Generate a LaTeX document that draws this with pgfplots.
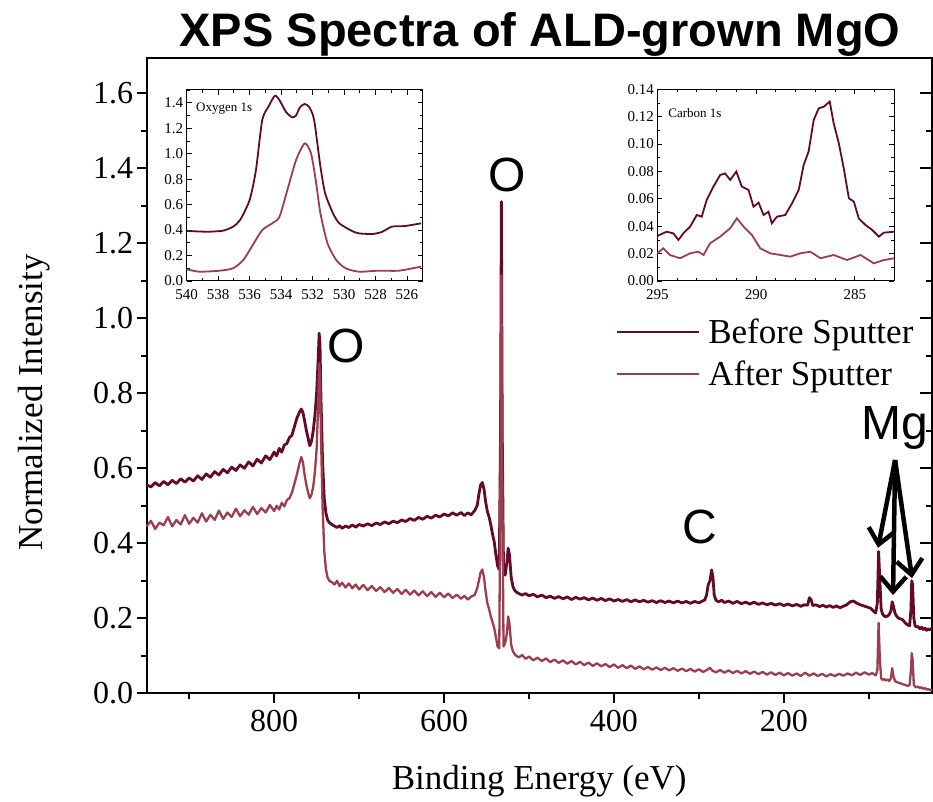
\documentclass[border=0pt]{standalone}
\usepackage{fontspec}
\setmainfont{Liberation Serif}
\newfontfamily\sansf{Liberation Sans}
\usepackage{pgfplots}
\pgfplotsset{compat=1.18}
\usetikzlibrary{arrows.meta}
\definecolor{before}{RGB}{100,10,40}
\definecolor{after}{RGB}{155,62,78}
\begin{document}
\begin{tikzpicture}
\useasboundingbox (-146.7pt,-107.7pt) rectangle (786.3pt,693.3pt);
% right-side inward ticks
\begin{axis}[
  at={(0pt,0pt)}, anchor=south west,
  scale only axis, width=785pt, height=635pt,
  x dir=reverse, xmin=26, xmax=950, ymin=0, ymax=1.693,
  hide x axis, axis y line*=right,
  axis line style={line width=2.2pt},
  ytick={0,0.2,...,1.6}, minor ytick={0.1,0.3,...,1.5},
  yticklabels={}, tick align=inside,
  major tick length=12pt, minor tick length=6pt,
  tick style={line width=2.2pt, black},
]
\addplot[draw=none] coordinates {(500,0.5)};
\end{axis}
\begin{axis}[
  at={(0pt,0pt)}, anchor=south west,
  scale only axis, width=785pt, height=635pt,
  x dir=reverse, xmin=26, xmax=950, ymin=0, ymax=1.693,
  clip=false,
  axis line style={line width=2.2pt},
  xtick={200,400,600,800}, minor xtick={100,300,500,700,900},
  ytick={0,0.2,...,1.6}, minor ytick={0.1,0.3,...,1.5},
  xtick pos=left, ytick pos=left, tick align=outside,
  major tick length=10pt, minor tick length=6pt,
  tick style={line width=2.2pt, black},
  /pgf/number format/assume math mode=true,
  ticklabel style={font=\fontsize{32}{38}\selectfont},
  yticklabel style={/pgf/number format/.cd, fixed, fixed zerofill, precision=1},
  xticklabel style={yshift=-3pt, /pgf/number format/.cd, fixed},
  label style={font=\fontsize{35}{40}\selectfont},
  xlabel={Binding Energy (eV)},
  ylabel={Normalized Intensity},
  xlabel style={at={(axis description cs:0.5,-0.139)}, anchor=center},
  ylabel style={at={(axis description cs:-0.144,0.458)}, anchor=center},
  legend style={draw=none, fill=none, at={(0.597,0.593)}, anchor=north west,
    font=\fontsize{35}{40}\selectfont, row sep=12pt, inner sep=0pt},
  legend cell align=left,
  legend image code/.code={\draw[#1] (0pt,0pt) -- (82pt,0pt); \path (88pt,0pt);},
]
\addplot[before, line width=2.8pt, line join=round] table {
x y
950 0.556
945 0.550
940 0.562
935 0.553
930 0.565
925 0.556
920 0.568
915 0.559
910 0.572
905 0.563
900 0.574
895 0.566
890 0.580
885 0.570
880 0.585
875 0.576
870 0.591
865 0.582
860 0.597
855 0.588
850 0.603
845 0.594
840 0.609
835 0.600
830 0.617
825 0.606
820 0.624
815 0.614
810 0.633
805 0.623
800 0.643
797 0.633
794 0.653
791 0.643
788 0.662
785 0.666
782 0.682
779 0.688
776 0.712
773 0.735
770 0.750
768 0.758
766 0.748
764 0.725
762 0.700
760 0.680
758 0.660
756 0.672
754 0.700
752 0.740
750 0.800
748 0.900
747 0.960
746 0.930
745 0.800
743 0.620
741 0.520
739 0.480
737 0.462
735 0.455
732 0.450
729 0.446
726 0.442
723 0.447
720 0.440
716 0.446
712 0.442
708 0.449
704 0.443
700 0.450
695 0.446
690 0.452
685 0.447
680 0.454
675 0.450
670 0.457
665 0.452
660 0.459
655 0.455
650 0.462
645 0.458
640 0.466
635 0.461
630 0.469
625 0.464
620 0.472
615 0.467
610 0.475
605 0.470
600 0.478
595 0.473
590 0.481
585 0.475
580 0.482
576 0.474
572 0.481
568 0.476
564 0.487
561 0.500
559 0.530
557 0.555
555 0.562
553 0.545
551 0.510
549 0.485
547 0.470
545 0.450
543 0.425
541 0.405
539 0.370
537 0.340
535 0.330
533.5 0.700
532.5 1.311
531.5 0.700
530 0.330
528 0.315
526 0.350
524.5 0.387
523 0.370
521 0.310
519 0.285
517 0.275
515 0.270
512 0.266
508 0.262
504 0.266
500 0.260
495 0.264
490 0.257
485 0.262
480 0.255
475 0.259
470 0.253
465 0.258
460 0.252
455 0.257
450 0.250
445 0.256
440 0.251
435 0.255
430 0.249
425 0.254
420 0.248
415 0.253
410 0.247
405 0.252
400 0.246
395 0.250
390 0.245
385 0.250
380 0.244
375 0.249
370 0.244
365 0.248
360 0.243
355 0.247
350 0.242
345 0.247
340 0.242
335 0.246
330 0.241
325 0.246
320 0.241
315 0.245
310 0.240
305 0.245
300 0.241
296 0.246
293 0.249
291 0.262
289 0.290
287 0.300
285 0.329
283.5 0.310
282 0.262
280 0.248
277 0.244
273 0.248
270 0.242
265 0.246
260 0.240
255 0.245
250 0.239
245 0.243
240 0.238
235 0.243
230 0.237
225 0.241
220 0.236
215 0.240
210 0.235
205 0.239
200 0.234
195 0.238
190 0.233
185 0.237
180 0.232
176 0.236
172 0.235
170 0.255
168 0.250
166 0.234
162 0.236
158 0.231
154 0.235
150 0.230
146 0.234
142 0.229
138 0.233
134 0.228
130 0.232
126 0.236
122 0.244
118 0.246
114 0.240
110 0.236
106 0.233
102 0.230
98 0.227
95 0.220
92 0.214
90 0.240
88.5 0.378
87 0.300
85.5 0.225
84 0.212
82 0.206
80 0.204
78 0.206
76 0.210
74 0.220
72.5 0.244
71 0.232
69 0.212
67 0.205
65 0.200
62 0.198
60 0.196
58 0.190
56 0.185
54 0.182
52 0.180
50.5 0.220
49.5 0.300
48.5 0.290
47 0.200
45.5 0.180
44 0.177
42 0.178
40 0.172
38 0.176
36 0.170
34 0.174
32 0.168
30 0.172
28 0.169
26 0.173
};
\addplot[after, line width=2.3pt, line join=round] table {
x y
950 0.445
945 0.460
940 0.438
935 0.455
930 0.448
925 0.470
920 0.445
915 0.462
910 0.450
905 0.475
900 0.452
895 0.468
890 0.455
885 0.480
880 0.458
875 0.476
870 0.462
865 0.487
860 0.465
855 0.482
850 0.470
845 0.492
840 0.472
835 0.488
830 0.476
825 0.497
820 0.478
815 0.494
810 0.482
805 0.502
800 0.486
797 0.500
794 0.490
791 0.508
788 0.498
785 0.515
782 0.520
779 0.535
776 0.560
773 0.585
770 0.615
768 0.630
766 0.615
764 0.580
762 0.555
760 0.535
758 0.520
756 0.530
754 0.550
752 0.590
750 0.650
748 0.780
747 0.880
746 0.850
745 0.700
743 0.500
741 0.380
739 0.330
737 0.308
735 0.300
732 0.296
729 0.290
726 0.300
723 0.286
720 0.295
716 0.282
712 0.293
708 0.280
704 0.290
700 0.277
695 0.289
690 0.275
685 0.286
680 0.273
675 0.283
670 0.270
665 0.281
660 0.268
655 0.278
650 0.265
645 0.276
640 0.263
635 0.274
630 0.261
625 0.272
620 0.259
615 0.270
610 0.257
605 0.268
600 0.256
595 0.266
590 0.254
585 0.263
580 0.252
576 0.260
572 0.250
568 0.258
564 0.262
561 0.280
559 0.300
557 0.322
555 0.330
553 0.310
551 0.270
549 0.240
547 0.225
545 0.205
543 0.190
541 0.175
539 0.150
537 0.125
535 0.120
533.5 0.600
532.5 1.115
531.5 0.600
530 0.125
528 0.135
526 0.160
524.5 0.205
523 0.185
521 0.130
519 0.112
517 0.105
515 0.100
512 0.096
508 0.102
504 0.092
500 0.098
495 0.088
490 0.095
485 0.086
480 0.093
475 0.083
470 0.090
465 0.081
460 0.088
455 0.079
450 0.086
445 0.077
440 0.084
435 0.075
430 0.082
425 0.073
420 0.080
415 0.072
410 0.078
405 0.070
400 0.077
395 0.068
390 0.075
385 0.067
380 0.074
375 0.065
370 0.072
365 0.064
360 0.070
355 0.063
350 0.069
345 0.062
340 0.068
335 0.061
330 0.067
325 0.060
320 0.066
315 0.059
310 0.065
305 0.058
300 0.064
295 0.057
290 0.063
287 0.068
284 0.060
280 0.056
275 0.062
270 0.055
265 0.061
260 0.054
255 0.060
250 0.053
245 0.059
240 0.052
235 0.058
230 0.051
225 0.057
220 0.050
215 0.056
210 0.049
205 0.055
200 0.048
195 0.054
190 0.047
185 0.053
180 0.046
175 0.055
170 0.047
165 0.053
160 0.046
155 0.052
150 0.045
145 0.051
140 0.046
135 0.052
130 0.047
125 0.053
120 0.048
115 0.055
110 0.049
105 0.056
100 0.050
96 0.054
92 0.048
90 0.060
88.5 0.188
87 0.090
85.5 0.040
84 0.036
82 0.038
80 0.034
78 0.037
76 0.033
74 0.040
72.5 0.067
71 0.045
69 0.032
67 0.030
65 0.028
62 0.026
60 0.024
58 0.023
56 0.021
54 0.020
52 0.022
50.5 0.060
49.5 0.107
48.5 0.090
47 0.022
45.5 0.018
44 0.016
42 0.018
40 0.014
38 0.016
36 0.012
34 0.014
32 0.010
30 0.012
28 0.008
26 0.010
};
\legend{Before Sputter, After Sputter}
\node[font=\sansf\bfseries\fontsize{47}{52}\selectfont, anchor=base] at (rel axis cs:0.501,1.018) {XPS Spectra of ALD-grown MgO};
\node[font=\sansf\fontsize{48}{52}\selectfont] at (axis cs:525.9,1.382) {O};
\node[font=\sansf\fontsize{48}{52}\selectfont] at (axis cs:715.4,0.926) {O};
\node[font=\sansf\fontsize{48}{52}\selectfont] at (axis cs:298.6,0.443) {C};
\node[font=\sansf\fontsize{48}{52}\selectfont] at (axis cs:69.1,0.707) {Mg};
\draw[line width=4.5pt, -{Straight Barb[length=15pt,width=26pt]}] (axis cs:69.1,0.622) -- (axis cs:89.2,0.388);
\draw[line width=4.5pt, -{Straight Barb[length=15pt,width=26pt]}] (axis cs:69.1,0.622) -- (axis cs:71.5,0.262);
\draw[line width=4.5pt, -{Straight Barb[length=15pt,width=26pt]}] (axis cs:69.1,0.622) -- (axis cs:49.1,0.307);
\end{axis}
% Oxygen inset
\begin{axis}[
  at={(40pt,412.3pt)}, anchor=south west, scale only axis, width=236pt, height=191pt,
  x dir=reverse, xmin=525, xmax=540, ymin=0, ymax=1.5,
  xtick={526,528,...,540}, minor xtick={525,527,...,539},
  ytick={0,0.2,...,1.4}, minor ytick={0.1,0.3,...,1.5},
  tick align=inside, major tick length=5pt, minor tick length=3pt,
  axis line style={line width=1pt}, tick style={line width=0.8pt, black},
  /pgf/number format/assume math mode=true,
  ticklabel style={font=\fontsize{15}{18}\selectfont},
  xticklabel style={yshift=-5pt},
  yticklabel style={/pgf/number format/.cd, fixed, fixed zerofill, precision=1},
  axis background/.style={fill=white},
]
\addplot[before, line width=1.8pt, smooth, tension=0.4] coordinates {
(540,0.393) (538.7,0.387) (537.7,0.395) (537.05,0.427) (536.6,0.48) (536,0.636)
(535.6,0.87) (535.2,1.264) (534.8,1.37) (534.4,1.455) (534.1,1.42) (533.7,1.33)
(533.3,1.285) (533.05,1.30) (532.8,1.364) (532.5,1.39) (532.2,1.364) (531.9,1.264)
(531.5,0.898) (531.2,0.688) (530.7,0.531) (530.3,0.453) (529.5,0.393) (529.05,0.374)
(528.2,0.369) (527.6,0.385) (526.95,0.427) (526.1,0.432) (525.1,0.453)
};
\addplot[after, line width=1.8pt, smooth, tension=0.4] coordinates {
(540,0.092) (539.2,0.073) (537.9,0.081) (537.05,0.1) (536.4,0.165) (535.8,0.283)
(535.2,0.4) (534.5,0.458) (534.1,0.505) (533.6,0.715) (533.05,0.95) (532.5,1.081)
(532.1,1.003) (531.8,0.793) (531.5,0.531) (531.05,0.296) (530.5,0.165) (529.9,0.1)
(529.05,0.073) (527.8,0.081) (526.5,0.081) (525.1,0.113)
};
\node[anchor=west, font=\fontsize{13}{15}\selectfont] at (rel axis cs:0.025,0.905) {Oxygen 1s};
\end{axis}
% Carbon inset
\begin{axis}[
  at={(510.6pt,412.3pt)}, anchor=south west, scale only axis, width=237pt, height=191.7pt,
  x dir=reverse, xmin=283, xmax=295, ymin=0, ymax=0.14,
  xtick={285,290,295}, minor xtick={284,286,287,288,289,291,292,293,294},
  ytick={0,0.02,...,0.14}, minor ytick={0.01,0.03,...,0.13},
  tick align=inside, major tick length=5pt, minor tick length=3pt,
  axis line style={line width=1pt}, tick style={line width=0.8pt, black},
  /pgf/number format/assume math mode=true,
  ticklabel style={font=\fontsize{15}{18}\selectfont},
  xticklabel style={yshift=-5pt},
  yticklabel style={/pgf/number format/.cd, fixed, fixed zerofill, precision=2},
  axis background/.style={fill=white},
]
\addplot[before, line width=1.8pt] coordinates {
(295,0.0329) (294.53,0.036) (294.19,0.0348) (293.93,0.030) (293.68,0.0348) (293.34,0.0397)
(293.0,0.0482) (292.75,0.047) (292.5,0.0592) (292.16,0.0689) (291.82,0.0774) (291.57,0.0786)
(291.31,0.0738) (291.0,0.0799) (290.72,0.0689) (290.38,0.0665) (290.13,0.0543) (289.87,0.0572)
(289.62,0.0482) (289.37,0.0506) (289.2,0.0421) (288.94,0.047) (288.52,0.0482) (288.18,0.0567)
(287.84,0.0665) (287.59,0.0847) (287.34,0.0945) (287.08,0.1176) (286.83,0.1261) (286.57,0.1273)
(286.27,0.131) (286.07,0.1152) (285.81,0.1006) (285.56,0.0823) (285.3,0.0604) (285.05,0.058)
(284.8,0.0458) (284.46,0.0409) (284.12,0.0373) (283.78,0.0324) (283.53,0.0353) (283.0,0.036)
};
\addplot[after, line width=1.8pt] coordinates {
(295,0.0202) (294.7,0.0239) (294.36,0.019) (293.85,0.0166) (293.34,0.0202) (292.92,0.0214)
(292.66,0.019) (292.33,0.0275) (291.82,0.0324) (291.31,0.0385) (290.97,0.0458) (290.63,0.0397)
(290.21,0.0336) (289.79,0.0239) (289.28,0.0202) (288.77,0.019) (288.27,0.0178) (287.76,0.0202)
(287.25,0.0214) (286.74,0.0166) (286.07,0.019) (285.39,0.0153) (284.71,0.019) (284.04,0.0129)
(283.53,0.0153) (283.0,0.0166)
};
\node[anchor=west, font=\fontsize{13}{15}\selectfont] at (rel axis cs:0.032,0.876) {Carbon 1s};
\end{axis}
\end{tikzpicture}
\end{document}
